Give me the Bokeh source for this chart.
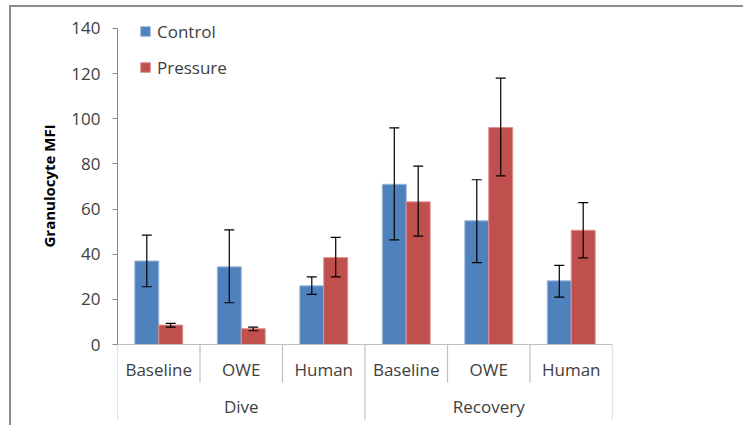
from bokeh.plotting import figure
from bokeh.models import (ColumnDataSource, FactorRange, Range1d, Whisker, TeeHead,
                          CategoricalAxis, FixedTicker, Title)
from bokeh.transform import dodge
from bokeh.embed import file_html
from bokeh.resources import INLINE

# ---------------- data ----------------
groups = ["Dive", "Recovery"]
conditions = ["Baseline", "OWE", "Human"]
series = ["Control", "Pressure"]

control = [37.0, 34.4, 26.0, 71.0, 54.8, 28.2]
control_hi = [48.5, 50.8, 30.0, 96.0, 73.0, 35.1]
control_lo = [25.6, 18.5, 22.2, 46.4, 36.3, 21.0]

pressure = [8.6, 7.0, 38.5, 63.2, 96.1, 50.6]
pressure_hi = [9.4, 7.7, 47.5, 79.0, 118.0, 62.9]
pressure_lo = [7.7, 6.1, 30.0, 48.0, 74.7, 38.4]

y_ticks = [0, 20, 40, 60, 80, 100, 120, 140]
y_title = "Granulocyte MFI"

# ---------------- styling ----------------
FONT = "Open Sans"
TXT = "#404040"
AXC = "#868686"
SEPC = "#BFBFBF"
BLUE = "#4F81BD"
RED = "#C0504D"
FRAMEC = "#8C8C8C"

factors = [(g, c) for g in groups for c in conditions]
src = ColumnDataSource(dict(x=factors, control=control, c_hi=control_hi, c_lo=control_lo,
                            pressure=pressure, p_hi=pressure_hi, p_lo=pressure_lo))

border_css = {
    "background-image": f"linear-gradient({FRAMEC},{FRAMEC}), linear-gradient({FRAMEC},{FRAMEC})",
    "background-size": "2px 420px, 734px 2px",
    "background-position": "9px 5px, 9px 5px",
    "background-repeat": "no-repeat",
}

x_range = FactorRange(*factors, group_padding=0, factor_padding=0, range_padding=0)
p = figure(width=743, height=425, x_range=x_range, y_range=Range1d(-34.1, 148.86),
           output_backend="svg", toolbar_location=None,
           min_border_left=117, min_border_right=131, min_border_top=8, min_border_bottom=4,
           styles=border_css)
p.outline_line_color = None
p.border_fill_color = None
p.background_fill_color = None
p.xgrid.visible = False
p.ygrid.visible = False

bw = 0.29
p.vbar(x=dodge("x", -bw / 2, range=p.x_range), top="control", width=bw, source=src,
       fill_color=BLUE, line_color="#9DB7DB", line_width=1, legend_label=series[0])
p.vbar(x=dodge("x", bw / 2, range=p.x_range), top="pressure", width=bw, source=src,
       fill_color=RED, line_color="#DB8F8D", line_width=1, legend_label=series[1])

for off, hi, lo in [(-bw / 2, "c_hi", "c_lo"), (bw / 2, "p_hi", "p_lo")]:
    w = Whisker(source=src, base=dodge("x", off, range=p.x_range), upper=hi, lower=lo,
                line_color="black", line_width=1.2, level="overlay",
                upper_head=TeeHead(size=10, line_color="black", line_width=1.2),
                lower_head=TeeHead(size=10, line_color="black", line_width=1.2))
    p.add_layout(w)

# separators below the category axis
long_x = [(groups[0], conditions[0], -0.5), (groups[1], conditions[0], -0.5),
          (groups[-1], conditions[-1], 0.5)]
short_x = [(g, c, -0.5) for g in groups for c in conditions[1:]]
p.segment(x0="x", y0=0, x1="x", y1=-33.2, source=ColumnDataSource(dict(x=long_x)),
          line_color=SEPC, line_width=1.2)
p.segment(x0="x", y0=0, x1="x", y1=-16.8, source=ColumnDataSource(dict(x=short_x)),
          line_color=SEPC, line_width=1.2)

# y axis
ya = p.yaxis[0]
ya.bounds = (0, 140)
ya.ticker = FixedTicker(ticks=y_ticks)
ya.minor_tick_line_color = None
ya.major_tick_in = 0
ya.major_tick_out = 5
ya.axis_line_color = AXC
ya.major_tick_line_color = AXC
ya.major_label_standoff = 12
ya.major_label_text_font = FONT
ya.major_label_text_font_size = "17px"
ya.major_label_text_color = TXT

# y title (centred on the 0..140 part of the axis)
p.add_layout(Title(text=y_title, align="left", offset=174, standoff=20,
                   text_font=FONT, text_font_style="bold", text_font_size="15px",
                   text_color="black"), "left")

# x axis (sub categories) at y = 0
xa = p.xaxis[0]
xa.fixed_location = 0
xa.axis_line_color = SEPC
xa.axis_line_width = 1.2
xa.major_tick_line_color = None
xa.major_tick_out = 0
xa.major_tick_in = 0
xa.separator_line_color = None
xa.group_text_color = None
xa.major_label_standoff = 13
xa.major_label_orientation = "horizontal"
xa.major_label_text_font = FONT
xa.major_label_text_font_size = "17px"
xa.major_label_text_color = TXT

# group axis
p.extra_x_ranges = {"grp": FactorRange(*groups, range_padding=0)}
ga = CategoricalAxis(x_range_name="grp", fixed_location=-16.8,
                     axis_line_color=None, major_tick_line_color=None,
                     major_tick_out=0, major_tick_in=0, major_label_standoff=13,
                     major_label_orientation="horizontal",
                     major_label_text_font=FONT, major_label_text_font_size="17px",
                     major_label_text_color=TXT)
p.add_layout(ga, "below")

# legend
lg = p.legend[0]
lg.location = (22, 342)
lg.padding = 0
lg.margin = 0
lg.spacing = 12
lg.label_height = 24
lg.glyph_height = 12
lg.glyph_width = 12
lg.label_standoff = 6
lg.border_line_color = None
lg.background_fill_alpha = 0
lg.label_text_font = FONT
lg.label_text_font_size = "17px"
lg.label_text_color = TXT

open("out.html", "w").write(file_html(p, INLINE))
